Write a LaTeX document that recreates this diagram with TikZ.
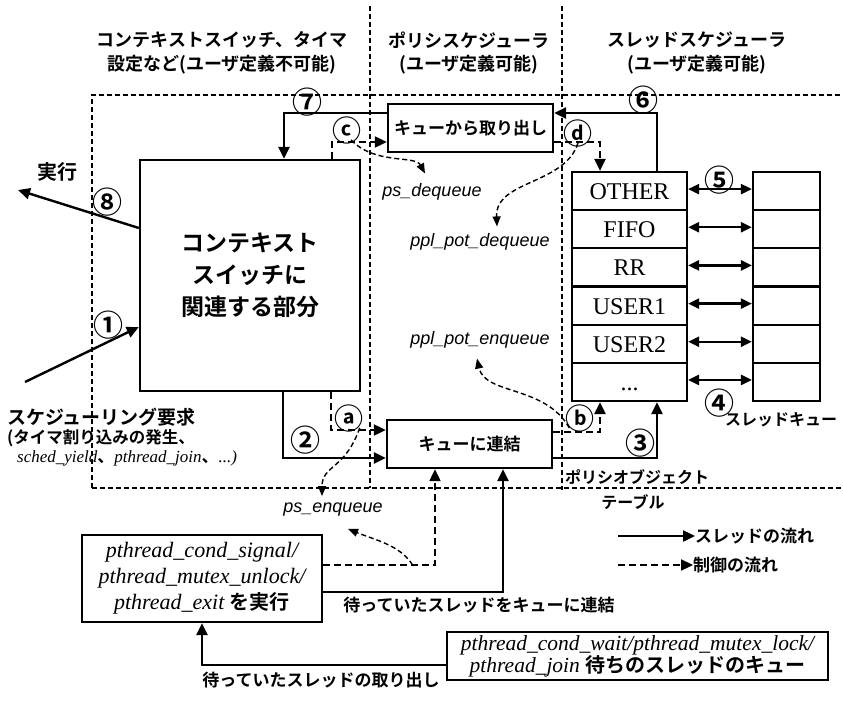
\documentclass[tikz,border=0pt]{standalone}
\usepackage{fontspec}
\setmainfont{Liberation Serif}
\newfontfamily\jp{Noto Sans CJK JP Bold}
\newfontfamily\ars{Liberation Sans}
\usetikzlibrary{arrows.meta}
\newcommand\mydots{...}
\begin{document}
\begin{tikzpicture}[x=1pt,y=-1pt,
  box/.style={draw, line width=2.4pt, inner sep=0pt, align=center},
  cell/.style={draw, line width=2.2pt, inner sep=0pt, minimum width=115pt, minimum height=38.17pt,
    font=\fontsize{24}{26}\selectfont, text height=17pt, text depth=0pt},
  qcell/.style={draw, line width=2.2pt, inner sep=0pt, minimum width=67pt, minimum height=38.17pt},
  region/.style={line width=1.3pt, dash pattern=on 5pt off 3pt},
  flow/.style={line width=2.4pt, -{Triangle[length=12pt,width=11pt]}},
  ctrl/.style={line width=2.2pt, dash pattern=on 7pt off 4pt, -{Triangle[length=12pt,width=11pt]}},
  cctrl/.style={line width=1.4pt, dash pattern=on 5pt off 3pt, -{Triangle[length=10pt,width=8pt]}},
  dbl/.style={line width=2.4pt, {Triangle[length=11pt,width=10pt]}-{Triangle[length=11pt,width=10pt]}},
  jt/.style={inner sep=0pt, font=\jp\fontsize{17}{20}\selectfont},
  title/.style={inner sep=0pt, font=\jp\fontsize{18}{22}\selectfont},
  num/.style={inner sep=0pt, font=\jp\fontsize{30}{30}\selectfont},
  let/.style={inner sep=0pt, font=\jp\fontsize{29}{29}\selectfont},
  fn/.style={inner sep=0pt, font=\ars\itshape\fontsize{18}{20}\selectfont},
]
\useasboundingbox (0,0) rectangle (843,701);

% regions
\draw[region] (92,488) -- (92,95) -- (843,95);
\draw[region] (92,488) -- (843,488);
\draw[region] (370,6) -- (370,488);
\draw[region] (562,6) -- (562,490);

% titles
\node[title] at (222,40) {コンテキストスイッチ、タイマ};
\node[title] at (222,65) {設定など(ユーザ定義不可能)};
\node[title] at (469,40) {ポリシスケジューラ};
\node[title] at (469,65) {(ユーザ定義可能)};
\node[title] at (697,40) {スレッドスケジューラ};
\node[title] at (697,65) {(ユーザ定義可能)};

% main boxes
\node[box, minimum width=220pt, minimum height=231pt, font=\jp\fontsize{23}{32}\selectfont] (cs) at (250,275.5)
  {コンテキスト\\スイッチに\\関連する部分};
\node[box, minimum width=165pt, minimum height=48pt, font=\jp\fontsize{17}{20}\selectfont] (topq) at (470.5,128) {キューから取り出し};
\node[box, minimum width=165pt, minimum height=48pt, font=\jp\fontsize{17}{20}\selectfont] (botq) at (469.5,444) {キューに連結};

% policy table and thread queues
\foreach \i/\t in {1/OTHER,2/FIFO,3/RR,4/USER1,5/USER2,6/\mydots}{
  \node[cell] (r\i) at (629.5,{172+38.17*(\i-0.5)}) {\t};
  \node[qcell] (q\i) at (786.5,{172+38.17*(\i-0.5)}) {};
}
\foreach \i in {1,...,6}{
  \draw[dbl] ([yshift=2pt]r\i.east) -- ([yshift=2pt]q\i.west);
}

% bottom boxes
\node[box, minimum width=240pt, minimum height=87pt, font=\itshape\fontsize{22}{26}\selectfont] (bl) at (202,578.5)
  {pthread\_cond\_signal/\\pthread\_mutex\_unlock/\\pthread\_exit {\upshape\jp\fontsize{20}{26}\selectfont を実行}};
\node[box, minimum width=381pt, minimum height=48pt, font=\itshape\fontsize{21.5}{22}\selectfont] (br) at (637.5,656)
  {pthread\_cond\_wait/pthread\_mutex\_lock/\\pthread\_join {\upshape\jp\fontsize{20}{22}\selectfont 待ちのスレッドのキュー}};

% labels
\node[num] (n7) at (307,102) {⑦};
\node[num] (n6) at (643,100) {⑥};
\node[num] (n8) at (107,202) {⑧};
\node[num] (n1) at (108,325) {①};
\node[num] (n2) at (305,440) {②};
\node[num] (n3) at (640,443) {③};
\node[num] (n4) at (719,403) {④};
\node[num] (n5) at (719,180) {⑤};
\node[let] (lc) at (347,130) {ⓒ};
\node[let] (ld) at (578,133) {ⓓ};
\node[let] (la) at (349,418) {ⓐ};
\node[let] (lb) at (580,418) {ⓑ};

\node[fn] (psdeq) at (432,192) {ps\_dequeue};
\node[fn] (ppldeq) at (480,242) {ppl\_pot\_dequeue};
\node[fn] (pplenq) at (480,340) {ppl\_pot\_enqueue};
\node[fn] (psenq) at (333,510) {ps\_enqueue};

\node[jt, font=\jp\fontsize{20}{22}\selectfont] (exe) at (57,172) {実行};
\node[jt, anchor=west, font=\jp\fontsize{19}{22}\selectfont] (rq1) at (7,417) {スケジューリング要求};
\node[jt, anchor=west, font=\jp\fontsize{16.5}{20}\selectfont] (rq2) at (7,438) {(タイマ割り込みの発生、};
\node[anchor=west, inner sep=0pt, font=\itshape\fontsize{17}{20}\selectfont] (rq3) at (17,458)
  {sched\_yield{\upshape\jp 、}pthread\_join{\upshape\jp 、}...)};
\node[jt, anchor=west, font=\jp\fontsize{16}{20}\selectfont] (pot1) at (565,477) {ポリシオブジェクト};
\node[jt, font=\jp\fontsize{16}{20}\selectfont] (pot2) at (633,502) {テーブル};
\node[jt, font=\jp\fontsize{16}{20}\selectfont] (tq) at (781,420) {スレッドキュー};
\node[jt] (wt1) at (479,605) {待っていたスレッドをキューに連結};
\node[jt] (wt2) at (321,680) {待っていたスレッドの取り出し};

% legend
\coordinate (ls1) at (618,536);
\coordinate (ls2) at (618,565);
\node[jt, anchor=west] (lt1) at (695,536) {スレッドの流れ};
\node[jt, anchor=west] (lt2) at (693,565) {制御の流れ};
\draw[flow] (ls1) -- (lt1.west);
\draw[ctrl] (ls2) -- (lt2.west);

% thread flow connectors
\coordinate (exec) at (18,190);
\coordinate (req) at (25,382);
\draw[flow] ([yshift=47.5pt]cs.west) -- (exec);
\draw[flow] (req) -- ([yshift=-51.5pt]cs.west);
\draw[flow] ([yshift=15pt]topq.west) -| ([xshift=34pt]cs.north);
\draw[flow] ([xshift=27.5pt]r1.north) |- ([yshift=15pt]topq.east);
\draw[flow] ([xshift=33pt]cs.south) |- ([yshift=-14pt]botq.west);
\draw[flow] ([yshift=-14pt]botq.east) -| ([xshift=27.5pt]r6.south);
\draw[flow] ([yshift=-13.5pt]bl.east) -| ([xshift=33.5pt]botq.south);
\draw[flow] ([yshift=-9pt]br.west) -| (bl.south);

% control flow connectors
\draw[ctrl] ([xshift=82pt]cs.north) |- ([yshift=-14pt]topq.west);
\draw[ctrl] ([yshift=-14pt]topq.east) -| ([xshift=-29.5pt]r1.north);
\draw[ctrl] ([xshift=81pt]cs.south) |- ([yshift=14pt]botq.west);
\draw[ctrl] ([yshift=12pt]botq.east) -| ([xshift=-29.5pt]r6.south);
\draw[ctrl] ([yshift=13.5pt]bl.east) -| coordinate[pos=0.4] (cb) ([xshift=-34.5pt]botq.south);

% function call curves
\draw[cctrl] ([xshift=4pt,yshift=4pt]lc.south) .. controls (375,165) and (415,155) .. ([xshift=-7pt,yshift=10pt]psdeq.north);
\draw[cctrl] ([yshift=4pt]ld.south) .. controls (565,185) and (495,180) .. ([xshift=17pt,yshift=7pt]ppldeq.north);
\draw[cctrl] ([xshift=4pt,yshift=4pt]lb.south west) .. controls (545,385) and (485,395) .. ([xshift=-3pt,yshift=-10pt]pplenq.south);
\draw[cctrl] ([xshift=-4pt,yshift=4pt]la.south east) .. controls (345,470) and (322,465) .. ([xshift=-11pt,yshift=7pt]psenq.north);
\draw[cctrl] (cb) .. controls (400,545) and (375,540) .. ([xshift=15pt,yshift=-12pt]psenq.south);
\end{tikzpicture}
\end{document}
